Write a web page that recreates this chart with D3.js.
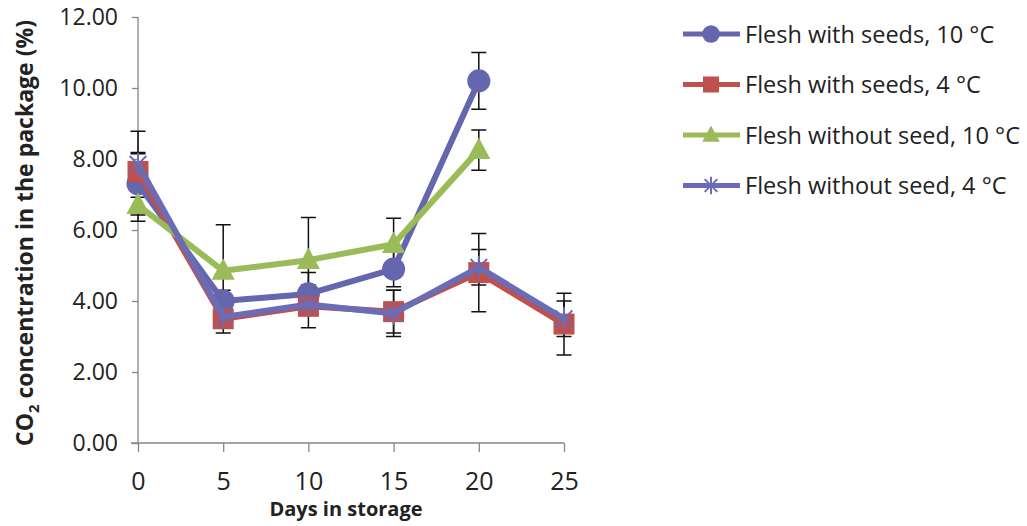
<!DOCTYPE html>
<html>
<head>
<meta charset="utf-8">
<script src="https://cdn.jsdelivr.net/npm/d3@7.9.0/dist/d3.min.js"></script>
<style>
  body { margin: 0; background: #fff; }
  svg { display: block; font-family: "Open Sans", sans-serif; }
</style>
</head>
<body>
<svg id="chart" width="1027" height="526"></svg>
<script>
// data
const days = [0, 5, 10, 15, 20, 25];
const seriesNames = ['Flesh with seeds, 10 °C', 'Flesh with seeds, 4 °C', 'Flesh without seed, 10 °C', 'Flesh without seed, 4 °C'];
const withSeeds10 = [7.3, 4.0, 4.2, 4.9, 10.2, null];
const withSeeds10Err = [0.88, 0.3, 0.6, 0.5, 0.8, null];
const withSeeds4 = [7.65, 3.5, 3.85, 3.7, 4.8, 3.35];
const withSeeds4Err = [0.5, 0.4, 0.6, 0.6, 1.1, 0.87];
const noSeed10 = [6.7, 4.85, 5.15, 5.6, 8.25, null];
const noSeed10Err = [0.45, 1.3, 1.2, 0.73, 0.57, null];
const noSeed4 = [7.85, 3.55, 3.9, 3.65, 4.95, 3.5];
const noSeed4Err = [0.93, 0.2, 0.3, 0.65, 0.5, 0.5];
const yTicks = [0, 2, 4, 6, 8, 10, 12];
const xTicks = [0, 5, 10, 15, 20, 25];

const colors = ['#6466ae', '#c0504d', '#9bbb59', '#6a6cb6'];
const shapes = ['circle', 'square', 'triangle', 'star'];
const errs = [withSeeds10Err, withSeeds4Err, noSeed10Err, noSeed4Err];
const series = [withSeeds10, withSeeds4, noSeed10, noSeed4].map((vals, i) => ({
  name: seriesNames[i],
  color: colors[i],
  shape: shapes[i],
  points: days.map((d, j) => ({ day: d, value: vals[j], err: errs[i][j] }))
    .filter(p => p.value != null)
}));

const svg = d3.select('#chart');
const x = d3.scaleLinear().domain([0, 25]).range([138, 564]);
const y = d3.scaleLinear().domain([0, 12]).range([443, 17]);

// axes
const axisColor = '#868686';
const yAxis = svg.append('g').attr('transform', 'translate(138,0)')
  .call(d3.axisLeft(y).tickValues(yTicks).tickSize(6).tickFormat(d3.format('.2f')));
const xAxis = svg.append('g').attr('transform', 'translate(0,443)')
  .call(d3.axisBottom(x).tickValues(xTicks).tickSize(9).tickFormat(d3.format('d')));
[yAxis, xAxis].forEach(g => {
  g.select('.domain').attr('stroke', axisColor).attr('stroke-width', 1.3);
  g.selectAll('.tick line').attr('stroke', axisColor).attr('stroke-width', 1.3);
  g.selectAll('.tick text').attr('fill', '#222')
    .attr('font-family', '"Open Sans", sans-serif');
});
yAxis.selectAll('.tick text').attr('font-size', 23).attr('x', -20);
xAxis.selectAll('.tick text').attr('font-size', 25).attr('dy', null).attr('y', 47);
yAxis.select('.domain').attr('d', 'M0,17V443');
xAxis.select('.domain').attr('d', 'M131,0H564');

// axis titles
svg.append('text')
  .attr('x', 346).attr('y', 516)
  .attr('text-anchor', 'middle')
  .attr('font-weight', 'bold').attr('font-size', 20).attr('fill', '#222')
  .text('Days in storage');

const yt = svg.append('text')
  .attr('transform', 'translate(33,233) rotate(-90)')
  .attr('text-anchor', 'middle')
  .attr('font-weight', 'bold').attr('font-size', 23).attr('fill', '#222');
yt.append('tspan').text('CO');
yt.append('tspan').attr('font-size', 15).attr('dy', 6).text('2');
yt.append('tspan').attr('dy', -6).text(' concentration in the package (%)');

// markers
function marker(g, shape, color, s) {
  if (shape === 'circle') {
    g.append('circle').attr('r', s * 0.55).attr('fill', color);
  } else if (shape === 'square') {
    g.append('rect').attr('x', -s / 2).attr('y', -s / 2).attr('width', s).attr('height', s).attr('fill', color);
  } else if (shape === 'triangle') {
    g.append('path').attr('d', `M0,${-s * 0.6}L${s * 0.55},${s * 0.42}L${-s * 0.55},${s * 0.42}Z`).attr('fill', color);
  } else {
    const r = s * 0.55;
    const d = r * 0.72;
    g.append('path')
      .attr('d', `M0,${-r}V${r}M${-d},${-d}L${d},${d}M${-d},${d}L${d},${-d}M${-r * 0.4},0H${r * 0.4}`)
      .attr('stroke', color).attr('stroke-width', 2).attr('fill', 'none');
  }
}

const line = d3.line().x(d => x(d.day)).y(d => y(d.value));

// error bars
series.forEach(s => {
  s.points.forEach(p => {
    const cx = x(p.day);
    svg.append('path')
      .attr('d', `M${cx},${y(p.value + p.err)}V${y(p.value - p.err)}M${cx - 7.5},${y(p.value + p.err)}H${cx + 7.5}M${cx - 7.5},${y(p.value - p.err)}H${cx + 7.5}`)
      .attr('stroke', '#111').attr('stroke-width', 1.5).attr('fill', 'none');
  });
});

// lines and markers
series.forEach(s => {
  svg.append('path').datum(s.points)
    .attr('d', line).attr('fill', 'none')
    .attr('stroke', s.color).attr('stroke-width', 6).attr('stroke-linejoin', 'round');
  s.points.forEach(p => {
    const g = svg.append('g').attr('transform', `translate(${x(p.day)},${y(p.value)})`);
    marker(g, s.shape, s.color, 21);
  });
});

// legend
const legend = svg.append('g');
series.forEach((s, i) => {
  const ly = 34 + i * 50.5;
  const g = legend.append('g').attr('transform', `translate(0,${ly})`);
  g.append('line').attr('x1', 683).attr('x2', 740).attr('y1', 0).attr('y2', 0)
    .attr('stroke', s.color).attr('stroke-width', 5);
  marker(g.append('g').attr('transform', 'translate(711,0)'), s.shape, s.color, 16);
  g.append('text').attr('x', 745).attr('y', 8.5)
    .attr('font-size', 23.5).attr('fill', '#222').text(s.name);
});
</script>
</body>
</html>
